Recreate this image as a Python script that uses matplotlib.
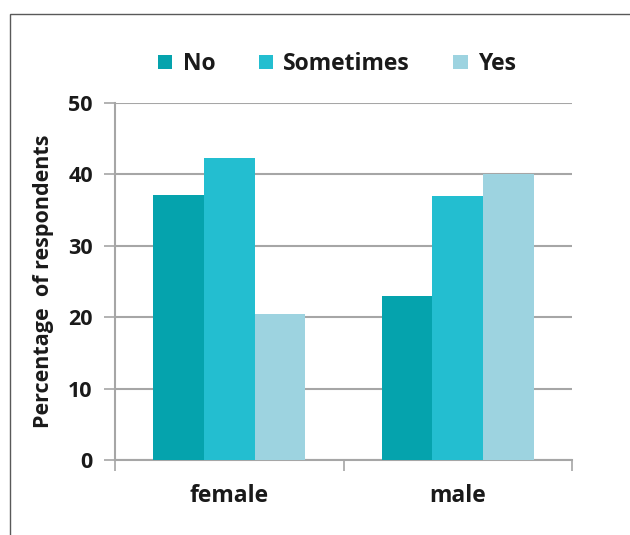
import matplotlib
matplotlib.use("Agg")
import matplotlib.pyplot as plt
from matplotlib.patches import Rectangle
import numpy as np

categories = ["female", "male"]
series_names = ["No", "Sometimes", "Yes"]
no_vals = [37.1, 23.0]
sometimes_vals = [42.3, 37.0]
yes_vals = [20.4, 40.0]
y_ticks = [0, 10, 20, 30, 40, 50]

colors = ["#05A3AD", "#23BED0", "#9DD3E0"]
grid_c = "#A6A6A6"
text_c = "#1a1a1a"

plt.rcParams['font.family'] = ['Open Sans', 'DejaVu Sans']
plt.rcParams['font.weight'] = 'bold'

fig = plt.figure(figsize=(6.3, 5.35), dpi=100)
W, H = 630, 535
ax = fig.add_axes([115 / W, 1 - 460 / H, (572 - 115) / W, (460 - 103) / H])

x = np.arange(len(categories))
bw = 0.222
for i, (vals, name) in enumerate(zip([no_vals, sometimes_vals, yes_vals], series_names)):
    ax.bar(x + (i - 1) * bw, vals, width=bw, color=colors[i], label=name, zorder=3)

ax.set_xlim(-0.5, 1.5)
ax.set_ylim(0, 50)
ax.set_yticks(y_ticks)
ax.set_yticklabels([str(t) for t in y_ticks], fontsize=15.5, fontweight='bold', color=text_c)
ax.yaxis.grid(True, color=grid_c, linewidth=1.5, zorder=0)
ax.set_axisbelow(True)

ax.set_xticks([-0.5, 0.5, 1.5])
ax.set_xticklabels([])
ax.set_xticks(x, minor=True)
ax.set_xticklabels(categories, minor=True, fontsize=16.5, fontweight='bold', color=text_c)
ax.tick_params(axis='x', which='minor', length=0, pad=17)
ax.tick_params(axis='x', which='major', length=8, color=grid_c, width=1.2)
ax.tick_params(axis='y', length=8, color=grid_c, width=1.2, pad=8)

for s in ['top', 'right']:
    ax.spines[s].set_visible(False)
for s in ['left', 'bottom']:
    ax.spines[s].set_color(grid_c)
    ax.spines[s].set_linewidth(1.5)

ax.set_ylabel("Percentage  of respondents", fontsize=15.5, fontweight='bold', color=text_c, labelpad=10)

leg = fig.legend(loc='center', bbox_to_anchor=(337 / W, 1 - 64 / H), ncol=3, frameon=False,
                 handlelength=0.62, handleheight=0.62, handletextpad=0.45, columnspacing=1.9,
                 prop={'size': 16.5, 'weight': 'bold'})
for t in leg.get_texts():
    t.set_color(text_c)

fig.patches.append(Rectangle((10 / W, -0.1), 1.0, 1 - 14 / H + 0.1, transform=fig.transFigure,
                             fill=False, edgecolor='#595959', linewidth=1.0))

fig.savefig("out.png", dpi=100)
